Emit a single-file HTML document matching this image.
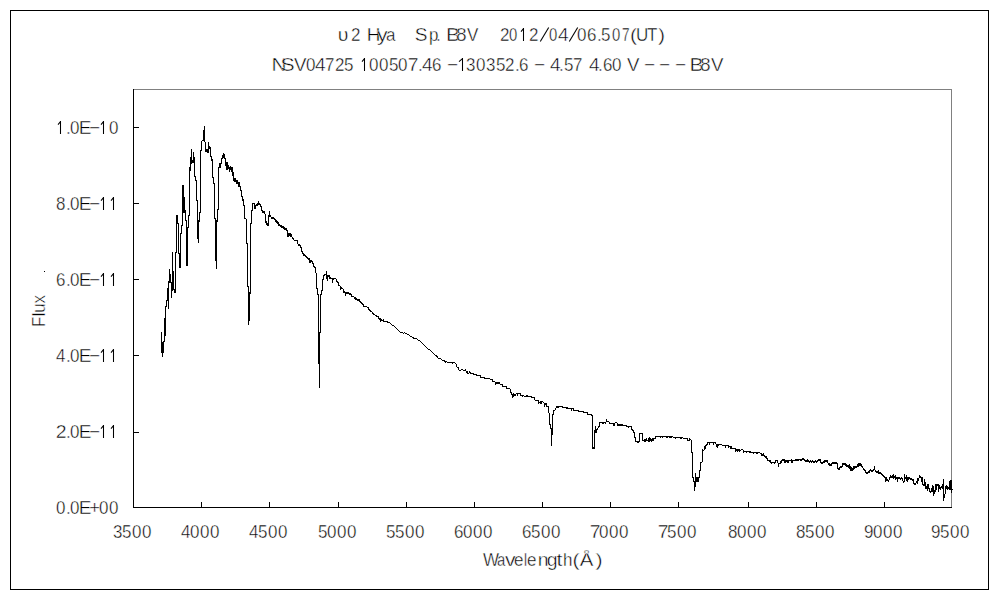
<!DOCTYPE html>
<html><head><meta charset="utf-8">
<style>
html,body{margin:0;padding:0;background:#fff;width:1000px;height:600px;overflow:hidden}
svg{display:block}
text{font-family:"Liberation Sans",sans-serif;fill:#000;stroke:#fff;stroke-width:0.4px}
</style></head>
<body>
<svg width="1000" height="600" viewBox="0 0 1000 600">
<rect x="0" y="0" width="1000" height="600" fill="#fff"/>
<g shape-rendering="crispEdges">
<rect x="10" y="10" width="979" height="1" fill="#000"/>
<rect x="10" y="589" width="979" height="1" fill="#000"/>
<rect x="10" y="10" width="1" height="580" fill="#000"/>
<rect x="988" y="10" width="1" height="580" fill="#000"/>
<rect x="133" y="89" width="819" height="1" fill="#808080"/>
<rect x="951" y="89" width="1" height="419" fill="#808080"/>
<rect x="133" y="89" width="1" height="419" fill="#000"/>
<rect x="133" y="507" width="819" height="1" fill="#000"/>
<path fill="#000" d="M134 127h5v1h-5zM134 203h5v1h-5zM134 279h5v1h-5zM134 355h5v1h-5zM134 432h5v1h-5z"/>
<path fill="#000" d="M201 502h1v5h-1zM269 502h1v5h-1zM338 502h1v5h-1zM406 502h1v5h-1zM474 502h1v5h-1zM542 502h1v5h-1zM610 502h1v5h-1zM678 502h1v5h-1zM748 502h1v5h-1zM816 502h1v5h-1zM884 502h1v5h-1z"/>
<path fill="#000" d="M161 332h1v21h-1zM162 342h1v15h-1zM163 341h1v12h-1zM164 318h1v24h-1zM165 306h1v30h-1zM166 300h1v7h-1zM167 288h1v13h-1zM168 281h1v28h-1zM169 269h1v14h-1zM170 274h1v9h-1zM171 282h1v16h-1zM172 252h1v39h-1zM173 271h1v19h-1zM174 289h1v4h-1zM175 252h1v41h-1zM176 215h1v38h-1zM177 215h1v9h-1zM178 223h1v31h-1zM179 253h1v15h-1zM180 233h1v35h-1zM181 225h1v9h-1zM182 185h1v41h-1zM183 185h1v28h-1zM184 197h1v16h-1zM185 210h1v11h-1zM186 220h1v46h-1zM187 227h1v39h-1zM188 215h1v13h-1zM189 167h1v49h-1zM190 157h1v14h-1zM191 149h1v15h-1zM192 160h1v3h-1zM193 152h1v11h-1zM194 157h1v20h-1zM195 176h1v5h-1zM196 180h1v21h-1zM197 200h1v39h-1zM198 220h1v23h-1zM199 212h1v10h-1zM200 150h1v63h-1zM201 141h1v10h-1zM202 140h1v1h-1zM203 130h1v11h-1zM204 126h1v16h-1zM205 142h1v10h-1zM206 149h1v3h-1zM207 149h1v4h-1zM208 142h1v11h-1zM209 146h1v3h-1zM210 147h1v10h-1zM211 156h1v5h-1zM212 159h1v19h-1zM213 177h1v7h-1zM214 183h1v36h-1zM215 218h1v43h-1zM216 220h1v49h-1zM217 209h1v13h-1zM218 167h1v43h-1zM219 163h1v5h-1zM220 163h1v5h-1zM221 158h1v6h-1zM222 155h1v4h-1zM223 153h1v5h-1zM224 154h1v5h-1zM225 158h1v8h-1zM226 162h1v8h-1zM227 162h1v8h-1zM228 165h1v4h-1zM229 167h1v5h-1zM230 166h1v4h-1zM231 167h1v5h-1zM232 167h1v9h-1zM233 172h1v9h-1zM234 178h1v4h-1zM235 178h1v4h-1zM236 180h1v4h-1zM237 180h1v4h-1zM238 182h1v5h-1zM239 182h1v5h-1zM240 186h1v5h-1zM241 190h1v7h-1zM242 196h1v5h-1zM243 199h1v7h-1zM244 205h1v14h-1zM245 218h1v1h-1zM246 219h1v25h-1zM247 243h1v44h-1zM248 286h1v39h-1zM249 292h1v29h-1zM250 223h1v71h-1zM251 210h1v14h-1zM252 203h1v8h-1zM253 203h1v1h-1zM254 203h1v6h-1zM255 205h1v4h-1zM256 204h1v2h-1zM257 203h1v3h-1zM258 201h1v4h-1zM259 203h1v2h-1zM260 204h1v3h-1zM261 206h1v5h-1zM262 210h1v3h-1zM263 211h1v2h-1zM264 211h1v3h-1zM265 214h1v9h-1zM266 221h1v4h-1zM267 223h1v3h-1zM268 215h1v11h-1zM269 211h1v6h-1zM270 215h1v2h-1zM271 217h1v2h-1zM272 217h1v2h-1zM273 217h1v2h-1zM274 218h1v2h-1zM275 219h1v3h-1zM276 220h1v3h-1zM277 221h1v3h-1zM278 222h1v4h-1zM279 224h1v2h-1zM280 225h1v2h-1zM281 225h1v3h-1zM282 226h1v2h-1zM283 226h1v3h-1zM284 227h1v3h-1zM285 228h1v2h-1zM286 228h1v3h-1zM287 230h1v7h-1zM288 233h1v4h-1zM289 233h1v3h-1zM290 233h1v4h-1zM291 234h1v3h-1zM292 237h1v2h-1zM293 238h1v2h-1zM294 240h1v1h-1zM295 240h1v1h-1zM296 240h1v1h-1zM297 240h1v4h-1zM298 244h1v2h-1zM299 244h1v2h-1zM300 245h1v3h-1zM301 247h1v5h-1zM302 251h1v3h-1zM303 253h1v3h-1zM304 254h1v2h-1zM305 255h1v2h-1zM306 256h1v2h-1zM307 257h1v2h-1zM308 258h1v2h-1zM309 258h1v5h-1zM310 260h1v3h-1zM311 260h1v2h-1zM312 261h1v3h-1zM313 263h1v4h-1zM314 266h1v2h-1zM315 267h1v6h-1zM316 273h1v16h-1zM317 288h1v7h-1zM318 294h1v70h-1zM319 332h1v56h-1zM320 294h1v39h-1zM321 290h1v5h-1zM322 279h1v12h-1zM323 275h1v5h-1zM324 274h1v2h-1zM325 274h1v1h-1zM326 271h1v8h-1zM327 275h1v6h-1zM328 275h1v2h-1zM329 275h1v4h-1zM330 277h1v2h-1zM331 278h1v1h-1zM332 278h1v5h-1zM333 278h1v2h-1zM334 278h1v1h-1zM335 278h1v1h-1zM336 279h1v3h-1zM337 281h1v2h-1zM338 282h1v4h-1zM339 285h1v1h-1zM340 286h1v4h-1zM341 287h1v2h-1zM342 288h1v1h-1zM343 289h1v4h-1zM344 291h1v2h-1zM345 292h1v4h-1zM346 292h1v2h-1zM347 292h1v2h-1zM348 292h1v2h-1zM349 293h1v2h-1zM350 293h1v2h-1zM351 294h1v3h-1zM352 296h1v1h-1zM353 296h1v1h-1zM354 297h1v2h-1zM355 297h1v3h-1zM356 298h1v2h-1zM357 299h1v2h-1zM358 299h1v2h-1zM359 299h1v3h-1zM360 301h1v2h-1zM361 302h1v2h-1zM362 303h1v2h-1zM363 304h1v3h-1zM364 306h1v1h-1zM365 306h1v1h-1zM366 306h1v1h-1zM367 307h1v1h-1zM368 307h1v3h-1zM369 309h1v2h-1zM370 310h1v2h-1zM371 311h1v1h-1zM372 312h1v2h-1zM373 313h1v2h-1zM374 314h1v1h-1zM375 315h1v1h-1zM376 315h1v2h-1zM377 316h1v1h-1zM378 316h1v3h-1zM379 318h1v2h-1zM380 318h1v4h-1zM381 319h1v2h-1zM382 320h1v1h-1zM383 319h1v3h-1zM384 321h1v1h-1zM385 321h1v1h-1zM386 321h1v1h-1zM387 321h1v2h-1zM388 322h1v1h-1zM389 322h1v1h-1zM390 323h1v1h-1zM391 324h1v1h-1zM392 325h1v1h-1zM393 325h1v1h-1zM394 326h1v1h-1zM395 327h1v1h-1zM396 328h1v1h-1zM397 329h1v1h-1zM398 330h1v1h-1zM399 331h1v1h-1zM400 332h1v1h-1zM401 332h1v1h-1zM402 332h1v1h-1zM403 333h1v1h-1zM404 332h1v1h-1zM405 333h1v1h-1zM406 333h1v1h-1zM407 334h1v1h-1zM408 334h1v1h-1zM409 335h1v1h-1zM410 336h1v1h-1zM411 336h1v1h-1zM412 337h1v1h-1zM413 337h1v2h-1zM414 338h1v1h-1zM415 338h1v1h-1zM416 338h1v1h-1zM417 339h1v1h-1zM418 340h1v1h-1zM419 340h1v1h-1zM420 341h1v1h-1zM421 342h1v1h-1zM422 343h1v1h-1zM423 344h1v1h-1zM424 345h1v1h-1zM425 346h1v1h-1zM426 347h1v1h-1zM427 348h1v1h-1zM428 349h1v1h-1zM429 349h1v1h-1zM430 350h1v1h-1zM431 351h1v1h-1zM432 352h1v1h-1zM433 353h1v1h-1zM434 354h1v1h-1zM435 355h1v1h-1zM436 355h1v2h-1zM437 356h1v2h-1zM438 358h1v1h-1zM439 358h1v1h-1zM440 358h1v1h-1zM441 359h1v1h-1zM442 360h1v1h-1zM443 360h1v1h-1zM444 360h1v2h-1zM445 361h1v2h-1zM446 361h1v1h-1zM447 362h1v1h-1zM448 362h1v1h-1zM449 362h1v1h-1zM450 362h1v1h-1zM451 362h1v1h-1zM452 362h1v2h-1zM453 362h1v1h-1zM454 362h1v1h-1zM455 363h1v1h-1zM456 364h1v3h-1zM457 367h1v1h-1zM458 367h1v3h-1zM459 370h1v1h-1zM460 370h1v1h-1zM461 369h1v1h-1zM462 369h1v1h-1zM463 370h1v1h-1zM464 370h1v1h-1zM465 369h1v2h-1zM466 371h1v2h-1zM467 371h1v3h-1zM468 373h1v1h-1zM469 371h1v2h-1zM470 372h1v2h-1zM471 373h1v1h-1zM472 373h1v1h-1zM473 373h1v2h-1zM474 374h1v1h-1zM475 374h1v1h-1zM476 374h1v2h-1zM477 375h1v1h-1zM478 375h1v1h-1zM479 375h1v1h-1zM480 375h1v3h-1zM481 377h1v1h-1zM482 377h1v1h-1zM483 377h1v1h-1zM484 377h1v2h-1zM485 378h1v1h-1zM486 378h1v1h-1zM487 378h1v1h-1zM488 378h1v1h-1zM489 378h1v1h-1zM490 379h1v1h-1zM491 379h1v1h-1zM492 379h1v3h-1zM493 381h1v1h-1zM494 381h1v1h-1zM495 382h1v3h-1zM496 382h1v2h-1zM497 382h1v2h-1zM498 382h1v2h-1zM499 382h1v2h-1zM500 384h1v1h-1zM501 384h1v1h-1zM502 384h1v3h-1zM503 386h1v1h-1zM504 386h1v1h-1zM505 386h1v1h-1zM506 386h1v3h-1zM507 388h1v1h-1zM508 388h1v1h-1zM509 388h1v1h-1zM510 389h1v4h-1zM511 392h1v3h-1zM512 394h1v4h-1zM513 393h1v4h-1zM514 394h1v2h-1zM515 394h1v2h-1zM516 393h1v1h-1zM517 393h1v3h-1zM518 393h1v1h-1zM519 393h1v1h-1zM520 393h1v3h-1zM521 395h1v1h-1zM522 395h1v2h-1zM523 395h1v1h-1zM524 396h1v1h-1zM525 396h1v1h-1zM526 395h1v2h-1zM527 395h1v2h-1zM528 396h1v1h-1zM529 396h1v1h-1zM530 396h1v1h-1zM531 396h1v2h-1zM532 397h1v1h-1zM533 397h1v1h-1zM534 397h1v3h-1zM535 400h1v1h-1zM536 400h1v1h-1zM537 400h1v1h-1zM538 400h1v4h-1zM539 402h1v1h-1zM540 401h1v3h-1zM541 401h1v3h-1zM542 401h1v1h-1zM543 402h1v1h-1zM544 403h1v4h-1zM545 403h1v2h-1zM546 403h1v4h-1zM547 406h1v1h-1zM548 406h1v7h-1zM549 413h1v12h-1zM550 424h1v5h-1zM551 428h1v18h-1zM552 414h1v21h-1zM553 410h1v5h-1zM554 410h1v1h-1zM555 408h1v2h-1zM556 406h1v2h-1zM557 406h1v2h-1zM558 406h1v2h-1zM559 406h1v1h-1zM560 406h1v1h-1zM561 406h1v1h-1zM562 406h1v2h-1zM563 407h1v1h-1zM564 407h1v1h-1zM565 407h1v1h-1zM566 407h1v2h-1zM567 407h1v2h-1zM568 408h1v1h-1zM569 408h1v1h-1zM570 408h1v1h-1zM571 408h1v3h-1zM572 408h1v1h-1zM573 408h1v3h-1zM574 410h1v1h-1zM575 410h1v1h-1zM576 410h1v1h-1zM577 410h1v1h-1zM578 410h1v2h-1zM579 411h1v1h-1zM580 411h1v1h-1zM581 411h1v1h-1zM582 411h1v1h-1zM583 411h1v2h-1zM584 412h1v1h-1zM585 412h1v1h-1zM586 412h1v1h-1zM587 412h1v3h-1zM588 414h1v1h-1zM589 414h1v1h-1zM590 414h1v1h-1zM591 414h1v2h-1zM592 415h1v34h-1zM593 447h1v2h-1zM594 430h1v19h-1zM595 426h1v7h-1zM596 429h1v4h-1zM597 428h1v2h-1zM598 426h1v2h-1zM599 422h1v5h-1zM600 422h1v1h-1zM601 422h1v1h-1zM602 422h1v2h-1zM603 422h1v2h-1zM604 422h1v1h-1zM605 422h1v2h-1zM606 419h1v3h-1zM607 421h1v1h-1zM608 421h1v1h-1zM609 422h1v2h-1zM610 423h1v1h-1zM611 423h1v1h-1zM612 423h1v1h-1zM613 423h1v3h-1zM614 423h1v3h-1zM615 422h1v1h-1zM616 422h1v1h-1zM617 423h1v3h-1zM618 424h1v2h-1zM619 424h1v2h-1zM620 424h1v2h-1zM621 424h1v2h-1zM622 424h1v2h-1zM623 425h1v1h-1zM624 425h1v1h-1zM625 425h1v1h-1zM626 425h1v2h-1zM627 426h1v1h-1zM628 426h1v2h-1zM629 426h1v1h-1zM630 426h1v1h-1zM631 426h1v4h-1zM632 429h1v2h-1zM633 430h1v3h-1zM634 432h1v6h-1zM635 437h1v5h-1zM636 441h1v1h-1zM637 441h1v2h-1zM638 441h1v2h-1zM639 433h1v9h-1zM640 433h1v1h-1zM641 433h1v1h-1zM642 433h1v8h-1zM643 440h1v1h-1zM644 439h1v3h-1zM645 439h1v3h-1zM646 438h1v3h-1zM647 440h1v1h-1zM648 438h1v4h-1zM649 437h1v5h-1zM650 438h1v3h-1zM651 439h1v3h-1zM652 438h1v3h-1zM653 438h1v3h-1zM654 438h1v1h-1zM655 436h1v3h-1zM656 436h1v1h-1zM657 436h1v1h-1zM658 436h1v1h-1zM659 436h1v1h-1zM660 436h1v2h-1zM661 436h1v1h-1zM662 436h1v2h-1zM663 436h1v1h-1zM664 436h1v1h-1zM665 436h1v1h-1zM666 436h1v2h-1zM667 436h1v2h-1zM668 436h1v1h-1zM669 436h1v2h-1zM670 436h1v2h-1zM671 436h1v2h-1zM672 436h1v1h-1zM673 437h1v1h-1zM674 437h1v1h-1zM675 437h1v2h-1zM676 437h1v1h-1zM677 437h1v1h-1zM678 437h1v1h-1zM679 437h1v1h-1zM680 437h1v2h-1zM681 437h1v2h-1zM682 437h1v1h-1zM683 438h1v1h-1zM684 438h1v1h-1zM685 438h1v1h-1zM686 438h1v1h-1zM687 438h1v3h-1zM688 440h1v1h-1zM689 438h1v3h-1zM690 439h1v1h-1zM691 440h1v13h-1zM692 452h1v26h-1zM693 477h1v5h-1zM694 481h1v10h-1zM695 473h1v14h-1zM696 477h1v5h-1zM697 477h1v5h-1zM698 477h1v5h-1zM699 470h1v8h-1zM700 462h1v9h-1zM701 462h1v1h-1zM702 449h1v13h-1zM703 450h1v1h-1zM704 446h1v4h-1zM705 445h1v4h-1zM706 444h1v2h-1zM707 442h1v3h-1zM708 442h1v1h-1zM709 442h1v3h-1zM710 442h1v1h-1zM711 442h1v1h-1zM712 442h1v1h-1zM713 442h1v3h-1zM714 442h1v1h-1zM715 442h1v2h-1zM716 444h1v3h-1zM717 444h1v4h-1zM718 444h1v2h-1zM719 444h1v1h-1zM720 444h1v1h-1zM721 444h1v1h-1zM722 445h1v1h-1zM723 445h1v1h-1zM724 445h1v1h-1zM725 445h1v3h-1zM726 445h1v1h-1zM727 445h1v1h-1zM728 445h1v3h-1zM729 446h1v1h-1zM730 446h1v3h-1zM731 446h1v3h-1zM732 448h1v1h-1zM733 448h1v1h-1zM734 448h1v1h-1zM735 448h1v4h-1zM736 449h1v2h-1zM737 449h1v3h-1zM738 449h1v2h-1zM739 449h1v3h-1zM740 450h1v1h-1zM741 449h1v1h-1zM742 449h1v1h-1zM743 450h1v3h-1zM744 451h1v1h-1zM745 451h1v1h-1zM746 451h1v2h-1zM747 451h1v1h-1zM748 451h1v1h-1zM749 451h1v2h-1zM750 451h1v2h-1zM751 452h1v1h-1zM752 452h1v1h-1zM753 452h1v2h-1zM754 452h1v1h-1zM755 452h1v1h-1zM756 452h1v2h-1zM757 452h1v2h-1zM758 452h1v1h-1zM759 452h1v1h-1zM760 453h1v1h-1zM761 453h1v3h-1zM762 454h1v2h-1zM763 453h1v3h-1zM764 455h1v2h-1zM765 456h1v2h-1zM766 456h1v3h-1zM767 458h1v3h-1zM768 460h1v1h-1zM769 460h1v2h-1zM770 460h1v3h-1zM771 462h1v2h-1zM772 462h1v1h-1zM773 462h1v1h-1zM774 462h1v2h-1zM775 460h1v3h-1zM776 460h1v1h-1zM777 460h1v3h-1zM778 463h1v4h-1zM779 463h1v1h-1zM780 461h1v3h-1zM781 460h1v3h-1zM782 459h1v2h-1zM783 459h1v2h-1zM784 459h1v4h-1zM785 460h1v3h-1zM786 460h1v2h-1zM787 460h1v3h-1zM788 460h1v3h-1zM789 460h1v1h-1zM790 460h1v1h-1zM791 459h1v4h-1zM792 460h1v3h-1zM793 460h1v1h-1zM794 460h1v1h-1zM795 459h1v2h-1zM796 459h1v2h-1zM797 459h1v2h-1zM798 459h1v2h-1zM799 459h1v1h-1zM800 459h1v2h-1zM801 459h1v2h-1zM802 458h1v2h-1zM803 458h1v2h-1zM804 459h1v2h-1zM805 460h1v2h-1zM806 460h1v2h-1zM807 459h1v3h-1zM808 460h1v2h-1zM809 461h1v2h-1zM810 460h1v2h-1zM811 461h1v2h-1zM812 460h1v2h-1zM813 461h1v2h-1zM814 461h1v2h-1zM815 460h1v2h-1zM816 461h1v2h-1zM817 460h1v2h-1zM818 459h1v2h-1zM819 459h1v2h-1zM820 459h1v4h-1zM821 462h1v2h-1zM822 462h1v2h-1zM823 461h1v2h-1zM824 460h1v3h-1zM825 460h1v2h-1zM826 460h1v2h-1zM827 460h1v3h-1zM828 463h1v2h-1zM829 463h1v3h-1zM830 464h1v2h-1zM831 463h1v3h-1zM832 462h1v2h-1zM833 462h1v2h-1zM834 462h1v2h-1zM835 462h1v2h-1zM836 462h1v2h-1zM837 463h1v6h-1zM838 468h1v2h-1zM839 467h1v3h-1zM840 466h1v2h-1zM841 466h1v2h-1zM842 463h1v4h-1zM843 463h1v2h-1zM844 463h1v2h-1zM845 463h1v3h-1zM846 464h1v3h-1zM847 465h1v2h-1zM848 465h1v3h-1zM849 464h1v5h-1zM850 466h1v5h-1zM851 467h1v4h-1zM852 468h1v3h-1zM853 466h1v4h-1zM854 466h1v3h-1zM855 466h1v2h-1zM856 466h1v2h-1zM857 464h1v3h-1zM858 463h1v4h-1zM859 463h1v3h-1zM860 463h1v3h-1zM861 464h1v3h-1zM862 466h1v2h-1zM863 468h1v2h-1zM864 469h1v2h-1zM865 470h1v3h-1zM866 472h1v2h-1zM867 472h1v2h-1zM868 471h1v2h-1zM869 470h1v3h-1zM870 469h1v2h-1zM871 470h1v2h-1zM872 470h1v2h-1zM873 469h1v2h-1zM874 466h1v4h-1zM875 470h1v2h-1zM876 471h1v2h-1zM877 471h1v2h-1zM878 470h1v4h-1zM879 472h1v2h-1zM880 472h1v2h-1zM881 473h1v2h-1zM882 474h1v2h-1zM883 475h1v2h-1zM884 476h1v2h-1zM885 477h1v5h-1zM886 477h1v4h-1zM887 479h1v2h-1zM888 480h1v2h-1zM889 477h1v3h-1zM890 475h1v3h-1zM891 476h1v2h-1zM892 475h1v3h-1zM893 474h1v5h-1zM894 476h1v2h-1zM895 475h1v5h-1zM896 477h1v2h-1zM897 477h1v5h-1zM898 477h1v2h-1zM899 477h1v2h-1zM900 478h1v2h-1zM901 477h1v2h-1zM902 478h1v3h-1zM903 481h1v2h-1zM904 474h1v8h-1zM905 477h1v2h-1zM906 475h1v6h-1zM907 477h1v5h-1zM908 477h1v3h-1zM909 477h1v2h-1zM910 478h1v2h-1zM911 478h1v2h-1zM912 479h1v2h-1zM913 479h1v5h-1zM914 483h1v2h-1zM915 483h1v2h-1zM916 481h1v2h-1zM917 478h1v6h-1zM918 478h1v3h-1zM919 475h1v3h-1zM920 476h1v2h-1zM921 477h1v5h-1zM922 477h1v8h-1zM923 484h1v2h-1zM924 479h1v7h-1zM925 482h1v7h-1zM926 486h1v3h-1zM927 484h1v7h-1zM928 484h1v5h-1zM929 488h1v4h-1zM930 491h1v2h-1zM931 488h1v4h-1zM932 485h1v7h-1zM933 486h1v10h-1zM934 490h1v4h-1zM935 484h1v8h-1zM936 484h1v6h-1zM937 484h1v2h-1zM938 484h1v8h-1zM939 485h1v4h-1zM940 487h1v3h-1zM941 486h1v2h-1zM942 484h1v5h-1zM943 479h1v22h-1zM944 494h1v4h-1zM945 486h1v8h-1zM946 485h1v4h-1zM947 486h1v4h-1zM948 487h1v2h-1zM949 481h1v9h-1zM950 480h1v10h-1zM951 480h1v13h-1zM952 489h1v1h-1z"/>
</g>
<g font-size="17">
<text transform="matrix(1.143 0 0 1.0833 337.86 41.00)">υ</text>
<text transform="matrix(1.000 0 0 1.0833 351.00 41.00)">2</text>
<text transform="matrix(1.111 0 0 1.0833 366.78 41.00)">H</text>
<text transform="matrix(1.250 0 0 1.0833 376.88 41.00)">y</text>
<text transform="matrix(1.000 0 0 1.0833 386.00 41.00)">a</text>
<text transform="matrix(1.125 0 0 1.0833 414.75 41.00)">S</text>
<text transform="matrix(1.000 0 0 1.0833 429.00 41.00)">p</text>
<text transform="matrix(1.000 0 0 1.0833 436.00 41.00)">.</text>
<text transform="matrix(1.250 0 0 1.0833 446.00 41.00)">B</text>
<text transform="matrix(1.125 0 0 1.0833 455.88 41.00)">8</text>
<text transform="matrix(1.000 0 0 1.0833 467.00 41.00)">V</text>
<text transform="matrix(1.000 0 0 1.0833 500.00 41.00)">2</text>
<text transform="matrix(0.875 0 0 1.0833 509.12 41.00)">0</text>
<path d="M523.5 28V41M521 31.6L523.5 28.6" stroke="#000" stroke-width="1.05" fill="none"/>
<text transform="matrix(1.000 0 0 1.0833 529.00 41.00)">2</text>
<path d="M540.3 41.5L548.7 27.5" stroke="#000" stroke-width="1.1" fill="none"/>
<text transform="matrix(0.875 0 0 1.0833 549.12 41.00)">0</text>
<text transform="matrix(1.125 0 0 1.0833 557.88 41.00)">4</text>
<path d="M569.3 41.5L577.7 27.5" stroke="#000" stroke-width="1.1" fill="none"/>
<text transform="matrix(1.000 0 0 1.0833 577.00 41.00)">0</text>
<text transform="matrix(1.000 0 0 1.0833 587.00 41.00)">6</text>
<text transform="matrix(1.000 0 0 1.0833 597.00 41.00)">.</text>
<text transform="matrix(1.000 0 0 1.0833 601.00 41.00)">5</text>
<text transform="matrix(0.875 0 0 1.0833 612.12 41.00)">0</text>
<text transform="matrix(0.800 0 0 1.0833 621.90 41.00)">7</text>
<text transform="matrix(1.250 0 0 1.0833 629.88 41.00)">(</text>
<text transform="matrix(1.000 0 0 1.0833 636.00 41.00)">U</text>
<text transform="matrix(1.000 0 0 1.0833 647.00 41.00)">T</text>
<text transform="matrix(1.250 0 0 1.0833 657.88 41.00)">)</text>
<text transform="matrix(1.222 0 0 1.0833 271.56 71.00)">N</text>
<text transform="matrix(1.250 0 0 1.0833 280.50 71.00)">S</text>
<text transform="matrix(1.100 0 0 1.0833 293.90 71.00)">V</text>
<text transform="matrix(1.000 0 0 1.0833 306.00 71.00)">0</text>
<text transform="matrix(1.125 0 0 1.0833 314.88 71.00)">4</text>
<text transform="matrix(1.000 0 0 1.0833 325.00 71.00)">7</text>
<text transform="matrix(1.000 0 0 1.0833 335.00 71.00)">2</text>
<text transform="matrix(1.000 0 0 1.0833 344.00 71.00)">5</text>
<path d="M364.5 58V71M362 61.6L364.5 58.6" stroke="#000" stroke-width="1.05" fill="none"/>
<text transform="matrix(1.000 0 0 1.0833 369.00 71.00)">0</text>
<text transform="matrix(1.000 0 0 1.0833 379.00 71.00)">0</text>
<text transform="matrix(1.000 0 0 1.0833 389.00 71.00)">5</text>
<text transform="matrix(1.000 0 0 1.0833 398.00 71.00)">0</text>
<text transform="matrix(1.143 0 0 1.0833 407.86 71.00)">7</text>
<text transform="matrix(1.000 0 0 1.0833 418.00 71.00)">.</text>
<text transform="matrix(1.125 0 0 1.0833 421.88 71.00)">4</text>
<text transform="matrix(1.000 0 0 1.0833 432.00 71.00)">6</text>
<text transform="matrix(1.125 0 0 1.0833 446.88 71.00)">−</text>
<path d="M462.5 58V71M459 61.6L462.5 58.6" stroke="#000" stroke-width="1.05" fill="none"/>
<text transform="matrix(1.000 0 0 1.0833 466.00 71.00)">3</text>
<text transform="matrix(1.000 0 0 1.0833 476.00 71.00)">0</text>
<text transform="matrix(1.000 0 0 1.0833 486.00 71.00)">3</text>
<text transform="matrix(1.000 0 0 1.0833 496.00 71.00)">5</text>
<text transform="matrix(1.000 0 0 1.0833 505.00 71.00)">2</text>
<text transform="matrix(1.000 0 0 1.0833 515.00 71.00)">.</text>
<text transform="matrix(1.000 0 0 1.0833 519.00 71.00)">6</text>
<text transform="matrix(1.125 0 0 1.0833 533.88 71.00)">−</text>
<text transform="matrix(1.125 0 0 1.0833 549.88 71.00)">4</text>
<text transform="matrix(1.000 0 0 1.0833 559.00 71.00)">.</text>
<text transform="matrix(1.000 0 0 1.0833 564.00 71.00)">5</text>
<text transform="matrix(1.000 0 0 1.0833 573.00 71.00)">7</text>
<text transform="matrix(1.125 0 0 1.0833 588.88 71.00)">4</text>
<text transform="matrix(1.000 0 0 1.0833 598.00 71.00)">.</text>
<text transform="matrix(1.000 0 0 1.0833 603.00 71.00)">6</text>
<text transform="matrix(1.000 0 0 1.0833 612.00 71.00)">0</text>
<text transform="matrix(1.100 0 0 1.0833 626.90 71.00)">V</text>
<text transform="matrix(1.125 0 0 1.0833 643.88 71.00)">−</text>
<text transform="matrix(1.125 0 0 1.0833 658.88 71.00)">−</text>
<text transform="matrix(1.125 0 0 1.0833 674.88 71.00)">−</text>
<text transform="matrix(1.250 0 0 1.0833 689.50 71.00)">B</text>
<text transform="matrix(1.125 0 0 1.0833 699.88 71.00)">8</text>
<text transform="matrix(1.100 0 0 1.0833 710.90 71.00)">V</text>
<path d="M60.5 121V134M58 124.6L60.5 121.6" stroke="#000" stroke-width="1.05" fill="none"/>
<text transform="matrix(1.000 0 0 1.0833 66.00 134.00)">.</text>
<text transform="matrix(1.000 0 0 1.0833 70.00 134.00)">0</text>
<text transform="matrix(1.125 0 0 1.0833 78.75 134.00)">E</text>
<text transform="matrix(1.125 0 0 1.0833 88.88 134.00)">−</text>
<path d="M103.5 121V134M101 124.6L103.5 121.6" stroke="#000" stroke-width="1.05" fill="none"/>
<text transform="matrix(1.000 0 0 1.0833 109.00 134.00)">0</text>
<text transform="matrix(1.000 0 0 1.0833 56.00 210.00)">8</text>
<text transform="matrix(1.000 0 0 1.0833 66.00 210.00)">.</text>
<text transform="matrix(1.000 0 0 1.0833 70.00 210.00)">0</text>
<text transform="matrix(1.125 0 0 1.0833 78.75 210.00)">E</text>
<text transform="matrix(1.125 0 0 1.0833 88.88 210.00)">−</text>
<path d="M103.5 197V210M101 200.6L103.5 197.6" stroke="#000" stroke-width="1.05" fill="none"/>
<path d="M113.5 197V210M111 200.6L113.5 197.6" stroke="#000" stroke-width="1.05" fill="none"/>
<text transform="matrix(1.000 0 0 1.0833 56.00 286.00)">6</text>
<text transform="matrix(1.000 0 0 1.0833 66.00 286.00)">.</text>
<text transform="matrix(1.000 0 0 1.0833 70.00 286.00)">0</text>
<text transform="matrix(1.125 0 0 1.0833 78.75 286.00)">E</text>
<text transform="matrix(1.125 0 0 1.0833 88.88 286.00)">−</text>
<path d="M103.5 273V286M101 276.6L103.5 273.6" stroke="#000" stroke-width="1.05" fill="none"/>
<path d="M113.5 273V286M111 276.6L113.5 273.6" stroke="#000" stroke-width="1.05" fill="none"/>
<text transform="matrix(1.000 0 0 1.0833 56.00 362.00)">4</text>
<text transform="matrix(1.000 0 0 1.0833 66.00 362.00)">.</text>
<text transform="matrix(1.000 0 0 1.0833 70.00 362.00)">0</text>
<text transform="matrix(1.125 0 0 1.0833 78.75 362.00)">E</text>
<text transform="matrix(1.125 0 0 1.0833 88.88 362.00)">−</text>
<path d="M103.5 349V362M101 352.6L103.5 349.6" stroke="#000" stroke-width="1.05" fill="none"/>
<path d="M113.5 349V362M111 352.6L113.5 349.6" stroke="#000" stroke-width="1.05" fill="none"/>
<text transform="matrix(1.143 0 0 1.0833 55.86 438.00)">2</text>
<text transform="matrix(1.000 0 0 1.0833 66.00 438.00)">.</text>
<text transform="matrix(1.000 0 0 1.0833 70.00 438.00)">0</text>
<text transform="matrix(1.125 0 0 1.0833 78.75 438.00)">E</text>
<text transform="matrix(1.125 0 0 1.0833 88.88 438.00)">−</text>
<path d="M103.5 425V438M101 428.6L103.5 425.6" stroke="#000" stroke-width="1.05" fill="none"/>
<path d="M113.5 425V438M111 428.6L113.5 425.6" stroke="#000" stroke-width="1.05" fill="none"/>
<text transform="matrix(1.000 0 0 1.0833 56.00 514.00)">0</text>
<text transform="matrix(1.000 0 0 1.0833 66.00 514.00)">.</text>
<text transform="matrix(1.000 0 0 1.0833 70.00 514.00)">0</text>
<text transform="matrix(1.125 0 0 1.0833 78.75 514.00)">E</text>
<text transform="matrix(1.125 0 0 1.0833 88.88 514.00)">+</text>
<text transform="matrix(1.000 0 0 1.0833 99.00 514.00)">0</text>
<text transform="matrix(1.000 0 0 1.0833 109.00 514.00)">0</text>
<text transform="matrix(1.000 0 0 1.0833 113.00 538.00)">3</text>
<text transform="matrix(1.000 0 0 1.0833 122.00 538.00)">5</text>
<text transform="matrix(1.000 0 0 1.0833 132.00 538.00)">0</text>
<text transform="matrix(1.000 0 0 1.0833 142.00 538.00)">0</text>
<text transform="matrix(1.000 0 0 1.0833 181.00 538.00)">4</text>
<text transform="matrix(1.000 0 0 1.0833 190.00 538.00)">0</text>
<text transform="matrix(1.000 0 0 1.0833 200.00 538.00)">0</text>
<text transform="matrix(1.000 0 0 1.0833 210.00 538.00)">0</text>
<text transform="matrix(1.000 0 0 1.0833 249.00 538.00)">4</text>
<text transform="matrix(1.000 0 0 1.0833 258.00 538.00)">5</text>
<text transform="matrix(1.000 0 0 1.0833 268.00 538.00)">0</text>
<text transform="matrix(1.000 0 0 1.0833 278.00 538.00)">0</text>
<text transform="matrix(1.000 0 0 1.0833 318.00 538.00)">5</text>
<text transform="matrix(1.000 0 0 1.0833 327.00 538.00)">0</text>
<text transform="matrix(1.000 0 0 1.0833 337.00 538.00)">0</text>
<text transform="matrix(1.000 0 0 1.0833 347.00 538.00)">0</text>
<text transform="matrix(1.000 0 0 1.0833 386.00 538.00)">5</text>
<text transform="matrix(1.000 0 0 1.0833 395.00 538.00)">5</text>
<text transform="matrix(1.000 0 0 1.0833 405.00 538.00)">0</text>
<text transform="matrix(1.000 0 0 1.0833 415.00 538.00)">0</text>
<text transform="matrix(1.000 0 0 1.0833 454.00 538.00)">6</text>
<text transform="matrix(1.000 0 0 1.0833 463.00 538.00)">0</text>
<text transform="matrix(1.000 0 0 1.0833 473.00 538.00)">0</text>
<text transform="matrix(1.000 0 0 1.0833 483.00 538.00)">0</text>
<text transform="matrix(1.000 0 0 1.0833 522.00 538.00)">6</text>
<text transform="matrix(1.000 0 0 1.0833 531.00 538.00)">5</text>
<text transform="matrix(1.000 0 0 1.0833 541.00 538.00)">0</text>
<text transform="matrix(1.000 0 0 1.0833 551.00 538.00)">0</text>
<text transform="matrix(1.143 0 0 1.0833 589.86 538.00)">7</text>
<text transform="matrix(1.000 0 0 1.0833 599.00 538.00)">0</text>
<text transform="matrix(1.000 0 0 1.0833 609.00 538.00)">0</text>
<text transform="matrix(1.000 0 0 1.0833 619.00 538.00)">0</text>
<text transform="matrix(1.143 0 0 1.0833 657.86 538.00)">7</text>
<text transform="matrix(1.000 0 0 1.0833 667.00 538.00)">5</text>
<text transform="matrix(1.000 0 0 1.0833 677.00 538.00)">0</text>
<text transform="matrix(1.000 0 0 1.0833 687.00 538.00)">0</text>
<text transform="matrix(1.000 0 0 1.0833 728.00 538.00)">8</text>
<text transform="matrix(1.000 0 0 1.0833 737.00 538.00)">0</text>
<text transform="matrix(1.000 0 0 1.0833 747.00 538.00)">0</text>
<text transform="matrix(1.000 0 0 1.0833 757.00 538.00)">0</text>
<text transform="matrix(1.000 0 0 1.0833 796.00 538.00)">8</text>
<text transform="matrix(1.000 0 0 1.0833 805.00 538.00)">5</text>
<text transform="matrix(1.000 0 0 1.0833 815.00 538.00)">0</text>
<text transform="matrix(1.000 0 0 1.0833 825.00 538.00)">0</text>
<text transform="matrix(1.000 0 0 1.0833 864.00 538.00)">9</text>
<text transform="matrix(1.000 0 0 1.0833 873.00 538.00)">0</text>
<text transform="matrix(1.000 0 0 1.0833 883.00 538.00)">0</text>
<text transform="matrix(1.000 0 0 1.0833 893.00 538.00)">0</text>
<text transform="matrix(1.000 0 0 1.0833 931.00 538.00)">9</text>
<text transform="matrix(1.000 0 0 1.0833 940.00 538.00)">5</text>
<text transform="matrix(1.000 0 0 1.0833 950.00 538.00)">0</text>
<text transform="matrix(1.000 0 0 1.0833 960.00 538.00)">0</text>
<text transform="matrix(1.000 0 0 1.0833 483.00 566.00)">W</text>
<text transform="matrix(0.875 0 0 1.0833 497.12 566.00)">a</text>
<text transform="matrix(1.250 0 0 1.0833 504.88 566.00)">v</text>
<text transform="matrix(1.000 0 0 1.0833 514.00 566.00)">e</text>
<text transform="matrix(0.800 0 0 1.0833 523.90 566.00)">l</text>
<text transform="matrix(1.000 0 0 1.0833 527.00 566.00)">e</text>
<text transform="matrix(1.143 0 0 1.0833 537.86 566.00)">n</text>
<text transform="matrix(1.143 0 0 1.0833 546.86 566.00)">g</text>
<text transform="matrix(1.250 0 0 1.0833 556.38 566.00)">t</text>
<text transform="matrix(1.000 0 0 1.0833 563.00 566.00)">h</text>
<text transform="matrix(1.250 0 0 1.0833 572.38 566.00)">(</text>
<text transform="matrix(1.200 0 0 1.0833 579.80 566.00)">Å</text>
<text transform="matrix(1.250 0 0 1.0833 595.38 566.00)">)</text>
<text transform="matrix(0 -1.0000 1.0833 0 45.00 327.00)">Flux</text>
<rect x="44" y="271" width="1" height="1" fill="#000"/>
</g>
</svg>
</body></html>
